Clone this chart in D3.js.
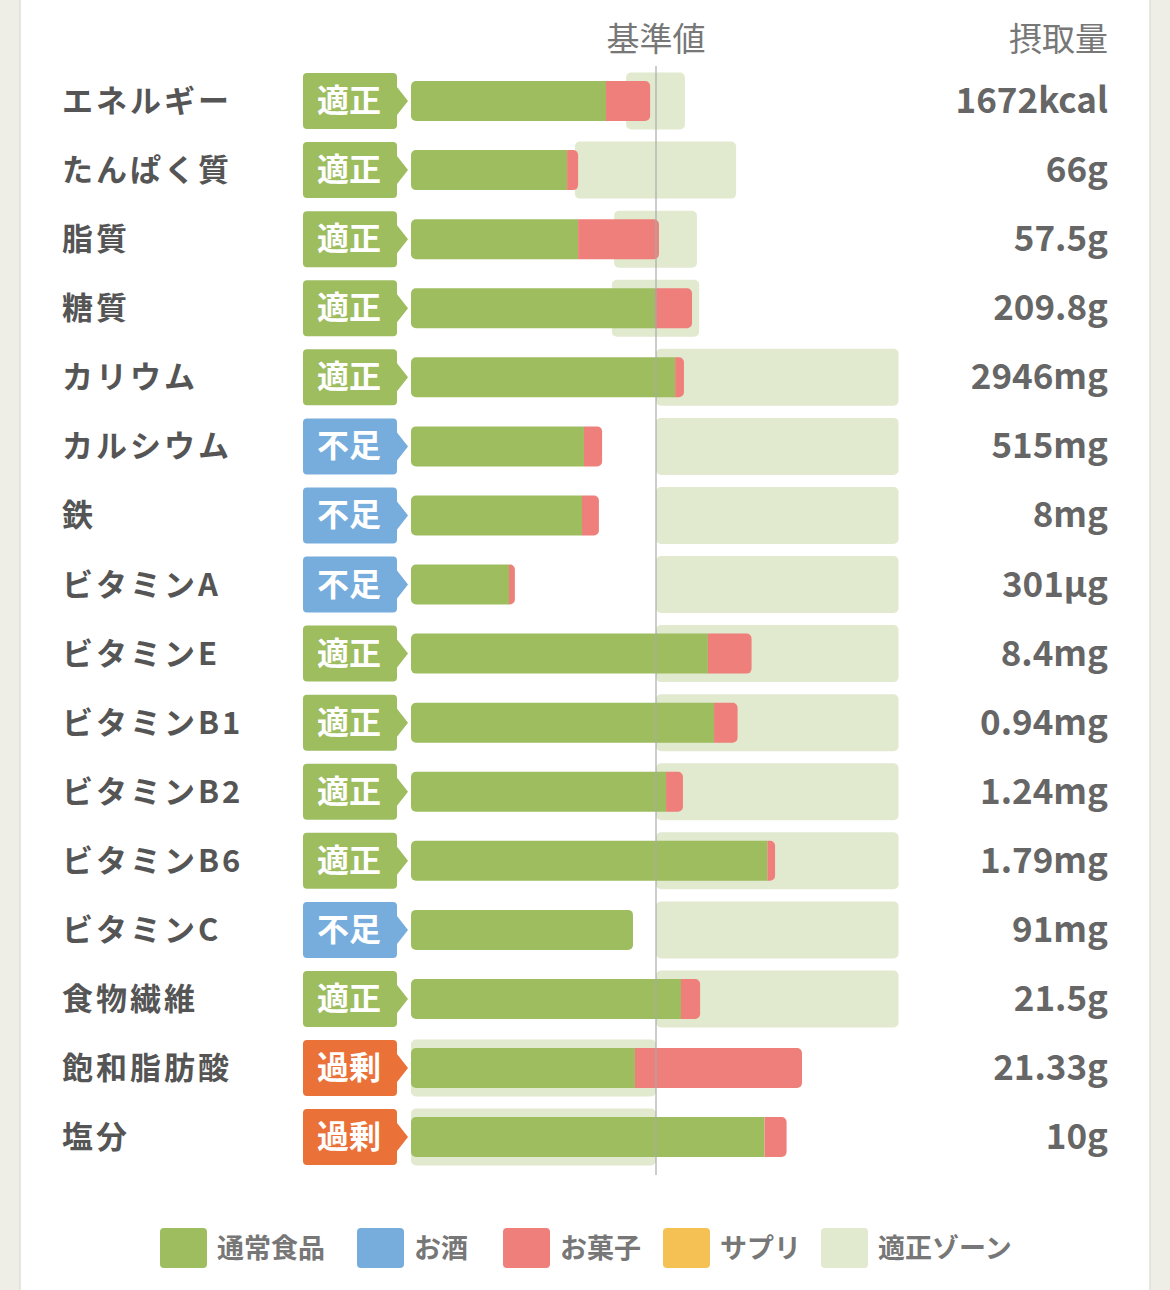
<!DOCTYPE html>
<html>
<head>
<meta charset="utf-8">
<script src="https://cdn.jsdelivr.net/npm/d3@7"></script>
<style>
  html, body { margin: 0; padding: 0; background: #eeeee7; }
  svg { display: block; }
  text { font-family: "Noto Sans CJK JP", "Noto Sans", sans-serif; }
</style>
</head>
<body>
<div id="chart-area"></div>
<script>
// nutrient rows
var nutrients = ["エネルギー", "たんぱく質", "脂質", "糖質", "カリウム", "カルシウム", "鉄",
    "ビタミンA", "ビタミンE", "ビタミンB1", "ビタミンB2", "ビタミンB6", "ビタミンC",
    "食物繊維", "飽和脂肪酸", "塩分"];
var statuses = ["適正", "適正", "適正", "適正", "適正", "不足", "不足", "不足",
    "適正", "適正", "適正", "適正", "不足", "適正", "過剰", "過剰"];
var intake = ["1672kcal", "66g", "57.5g", "209.8g", "2946mg", "515mg", "8mg", "301µg",
    "8.4mg", "0.94mg", "1.24mg", "1.79mg", "91mg", "21.5g", "21.33g", "10g"];

// % of the reference value, per source
var normalFood = [79.6, 63.7, 68.2, 99.6, 107.8, 70.6, 69.8, 40.0, 121.2, 123.7, 104.1, 145.5, 90.6, 110.2, 91.4, 144.3];
var alcohol    = [0, 0, 0, 0, 0, 0, 0, 0, 0, 0, 0, 0, 0, 0, 0, 0];
var snacks     = [18.0, 4.5, 33.0, 15.1, 3.6, 7.4, 6.9, 2.4, 17.8, 9.6, 6.9, 3.1, 0, 7.8, 68.2, 9.0];
var supplement = [0, 0, 0, 0, 0, 0, 0, 0, 0, 0, 0, 0, 0, 0, 0, 0];

// proper zone (% of reference)
var zoneLow  = [87.8, 66.9, 82.9, 82.0, 100, 100, 100, 100, 100, 100, 100, 100, 100, 100, 0, 0];
var zoneHigh = [111.8, 132.7, 116.7, 117.6, 199, 199, 199, 199, 199, 199, 199, 199, 199, 199, 100, 100];

var legendLabels = ["通常食品", "お酒", "お菓子", "サプリ", "適正ゾーン"];

var sources = ["normal", "alcohol", "snacks", "supplement"];
var sourceColor = d3.scaleOrdinal()
    .domain(sources)
    .range(["#9dbd5f", "#76addd", "#ee7f7b", "#f5c155"]);
var zoneColor = "#e1e9cf";
var statusColor = { "適正": "#9dbd5f", "不足": "#76addd", "過剰": "#ea7138" };

var width = 1170, height = 1290;

var svg = d3.select("#chart-area")
    .append("svg")
        .attr("width", width)
        .attr("height", height);

// card background
svg.append("rect")
    .attr("x", 0).attr("y", 0)
    .attr("width", width).attr("height", height)
    .attr("fill", "#eeeee7");
svg.append("rect")
    .attr("x", 20).attr("y", -2)
    .attr("width", 1130).attr("height", height + 4)
    .attr("fill", "#fff")
    .attr("stroke", "#dedfd6")
    .attr("stroke-width", 1.5);

// Scales
var x = d3.scaleLinear()
    .domain([0, 100])
    .range([411, 656]);
var y = d3.scaleBand()
    .domain(nutrients)
    .range([66.5, 66.5 + 16 * 69.07])
    .padding(0);

var barH = 40, zoneH = 57, badgeH = 56;

var rows = nutrients.map(function(name, i) {
    return {
        name: name, status: statuses[i], intake: intake[i],
        normal: normalFood[i], alcohol: alcohol[i], snacks: snacks[i], supplement: supplement[i],
        zoneLow: zoneLow[i], zoneHigh: zoneHigh[i]
    };
});

var stacked = d3.stack().keys(sources)(rows);

function cy(d) { return y(d.name) + y.bandwidth() / 2; }

// rect path with separate left/right corner radius
function roundPath(x0, x1, y0, h, rl, rr) {
    var p = d3.path();
    p.moveTo(x0 + rl, y0);
    p.lineTo(x1 - rr, y0);
    if (rr) p.arcTo(x1, y0, x1, y0 + rr, rr); else p.lineTo(x1, y0);
    p.lineTo(x1, y0 + h - rr);
    if (rr) p.arcTo(x1, y0 + h, x1 - rr, y0 + h, rr); else p.lineTo(x1, y0 + h);
    p.lineTo(x0 + rl, y0 + h);
    if (rl) p.arcTo(x0, y0 + h, x0, y0 + h - rl, rl); else p.lineTo(x0, y0 + h);
    p.lineTo(x0, y0 + rl);
    if (rl) p.arcTo(x0, y0, x0 + rl, y0, rl); else p.lineTo(x0, y0);
    p.closePath();
    return p.toString();
}

// Headers
svg.append("text")
    .attr("x", x(100))
    .attr("y", 51)
    .attr("text-anchor", "middle")
    .attr("font-size", "33px")
    .attr("fill", "#777")
    .text("基準値");
svg.append("text")
    .attr("x", 1108)
    .attr("y", 51)
    .attr("text-anchor", "end")
    .attr("font-size", "33px")
    .attr("fill", "#777")
    .text("摂取量");

// Proper zones
svg.append("g").selectAll("rect")
    .data(rows)
    .enter().append("rect")
        .attr("x", function(d) { return x(d.zoneLow); })
        .attr("width", function(d) { return x(d.zoneHigh) - x(d.zoneLow); })
        .attr("y", function(d) { return cy(d) - zoneH / 2; })
        .attr("height", zoneH)
        .attr("rx", 5)
        .attr("fill", zoneColor);

// Stacked bars
var lastKey = rows.map(function(d) {
    var k = null;
    sources.forEach(function(s) { if (d[s] > 0) k = s; });
    return k;
});
svg.append("g").selectAll("g")
    .data(stacked)
    .enter().append("g")
        .attr("fill", function(s) { return sourceColor(s.key); })
    .selectAll("path")
    .data(function(s) {
        return s.map(function(seg, i) { return { seg: seg, key: s.key, row: rows[i], i: i }; })
            .filter(function(e) { return e.seg[1] > e.seg[0]; });
    })
    .enter().append("path")
        .attr("d", function(e) {
            var rl = e.seg[0] === 0 ? 5 : 0;
            var rr = lastKey[e.i] === e.key ? 5 : 0;
            return roundPath(x(e.seg[0]), x(e.seg[1]), cy(e.row) - barH / 2, barH, rl, rr);
        });

// Reference line
svg.append("line")
    .attr("x1", x(100)).attr("x2", x(100))
    .attr("y1", 66).attr("y2", 1175)
    .attr("stroke", "#aaa")
    .attr("stroke-width", 1.2);

// Nutrient names
svg.append("g").selectAll("text")
    .data(rows)
    .enter().append("text")
        .attr("x", 62)
        .attr("y", function(d) { return cy(d) + 11; })
        .attr("font-size", "31px")
        .attr("font-weight", "bold")
        .attr("letter-spacing", "3px")
        .attr("fill", "#555")
        .text(function(d) { return d.name; });

// Status badges
var badge = svg.append("g").selectAll("g")
    .data(rows)
    .enter().append("g")
        .attr("transform", function(d) { return "translate(303," + (cy(d) - badgeH / 2) + ")"; });
badge.append("path")
    .attr("d", function() {
        var w = 94, h = badgeH, r = 4, m = h / 2;
        return "M" + r + ",0 H" + (w - r) + " Q" + w + ",0 " + w + "," + r +
            " V" + (m - 14) + " L" + (w + 11) + "," + m + " L" + w + "," + (m + 14) +
            " V" + (h - r) + " Q" + w + "," + h + " " + (w - r) + "," + h +
            " H" + r + " Q0," + h + " 0," + (h - r) + " V" + r + " Q0,0 " + r + ",0 Z";
    })
    .attr("fill", function(d) { return statusColor[d.status]; });
badge.append("text")
    .attr("x", 46)
    .attr("y", badgeH / 2 + 11)
    .attr("text-anchor", "middle")
    .attr("font-size", "32px")
    .attr("font-weight", "bold")
    .attr("fill", "#fff")
    .text(function(d) { return d.status; });

// Intake values
svg.append("g").selectAll("text")
    .data(rows)
    .enter().append("text")
        .attr("x", 1108)
        .attr("y", function(d) { return cy(d) + 12; })
        .attr("text-anchor", "end")
        .attr("font-family", "'Noto Sans', sans-serif")
        .attr("font-size", "35px")
        .attr("font-weight", "bold")
        .attr("fill", "#666")
        .text(function(d) { return d.intake; });

// Legend
var legendX = [160, 357, 503, 663, 821];
var legendColors = sources.map(function(s) { return sourceColor(s); }).concat([zoneColor]);
var legend = svg.append("g").attr("transform", "translate(0,1228)");
legendLabels.forEach(function(label, i) {
    var item = legend.append("g")
        .attr("transform", "translate(" + legendX[i] + ",0)");
    item.append("rect")
        .attr("width", 47)
        .attr("height", 40)
        .attr("rx", 4)
        .attr("fill", legendColors[i]);
    item.append("text")
        .attr("x", 57)
        .attr("y", 30)
        .attr("font-size", "27px")
        .attr("font-weight", "bold")
        .attr("fill", "#777")
        .text(label);
});
</script>
</body>
</html>
